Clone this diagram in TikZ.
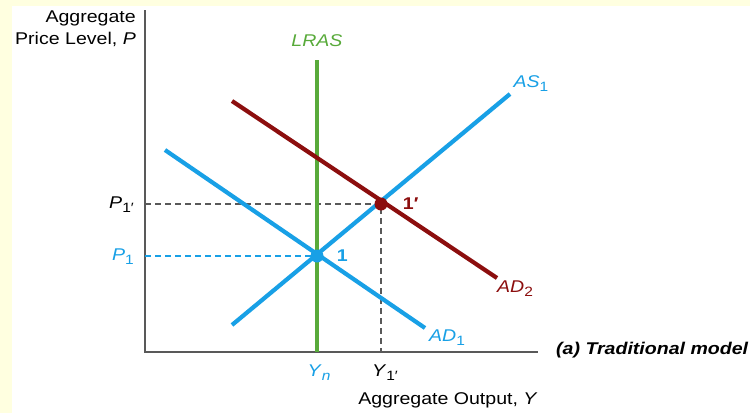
\documentclass[tikz,border=0pt]{standalone}
\usepackage{fontspec}
\setmainfont{Liberation Sans}[FakeStretch=1.15]
\setsansfont{Liberation Sans}[FakeStretch=1.15]
\usetikzlibrary{positioning}
\definecolor{adblue}{RGB}{24,160,230}
\definecolor{lrasgreen}{RGB}{88,170,58}
\definecolor{addark}{RGB}{140,14,14}
\definecolor{pagebg}{RGB}{255,255,224}
\newcommand\lowsub[1]{\raisebox{-4pt}{\fontsize{13.5}{14}\selectfont#1}}
\tikzset{
  curve/.style={line width=4.2pt},
  axisline/.style={line width=1.4pt,gray!70!black},
  guide/.style={dashed,line width=1.1pt,dash pattern=on 6pt off 4pt},
  dot/.style={circle,fill,inner sep=0pt,minimum size=13pt},
  lbl/.style={font=\fontsize{17}{22}\selectfont,inner sep=1pt},
  boldlbl/.style={lbl,font=\fontsize{17}{22}\selectfont\bfseries}
}
\begin{document}
\begin{tikzpicture}[x=1pt,y=-1pt]
  \useasboundingbox (0,0) rectangle (750,413);
  \fill[pagebg] (0,0) rectangle (750,413);
  \fill[white] (12,6) rectangle (750,413);
  % axes
  \coordinate (o) at (145,352);
  \coordinate (ytop) at (145,10);
  \coordinate (xend) at (538,352);
  \draw[axisline] (ytop) -- (o) -- (xend);
  \node[lbl,align=right,anchor=north east] (ylab) at (137,10) {Aggregate\\Price Level, \textit{P}};
  \node[lbl] (xlab) at (448,400) {Aggregate Output, \textit{Y}};
  \node[lbl,anchor=west,font=\fontsize{17}{22}\selectfont\bfseries\itshape] (title) at (555,350) {(a) Traditional model};
  % equilibria
  \coordinate (e1) at (317,256);
  \coordinate (e2) at (381,204);
  \coordinate (pa) at (145,204);
  \coordinate (pb) at (145,256);
  \coordinate (ya) at (381,352);
  \draw[guide,gray!70!black] (pa) -- (e2) -- (ya);
  \draw[guide,adblue] (pb) -- (e1);
  % curves
  \coordinate (lras0) at (317,60);
  \coordinate (lras1) at (317,352);
  \draw[curve,lrasgreen] (lras0) -- (lras1);
  \coordinate (as0) at (232,325);
  \coordinate (as1) at (510,94);
  \draw[curve,adblue] (as0) -- (as1);
  \coordinate (ad10) at (165,150);
  \coordinate (ad11) at (425,328);
  \draw[curve,adblue] (ad10) -- (ad11);
  \coordinate (ad20) at (232,101);
  \coordinate (ad21) at (497,278);
  \draw[curve,addark] (ad20) -- (ad21);
  \node[dot,adblue] (pt1) at (e1) {};
  \node[dot,addark] (pt2) at (e2) {};
  % labels
  \node[lbl,lrasgreen] (lraslab) at (317,41) {\textit{LRAS}};
  \node[lbl,adblue] (aslab) at (531,84) {\textit{AS}\lowsub{1}};
  \node[lbl,adblue] (ad1lab) at (447,338) {\textit{AD}\lowsub{1}};
  \node[lbl,addark] (ad2lab) at (515,289) {\textit{AD}\lowsub{2}};
  \node[boldlbl,adblue,right=12pt of pt1] (n1) {1};
  \node[boldlbl,addark,right=14pt of pt2] (n2) {1′};
  \node[lbl,anchor=east] (p2lab) at (135,205) {\textit{P}\lowsub{1′}};
  \node[lbl,adblue,anchor=east] (p1lab) at (135,257) {\textit{P}\lowsub{1}};
  \node[lbl,adblue] (ynlab) at (319,373) {\textit{Y}\lowsub{\textit{n}}};
  \node[lbl] (y2lab) at (385,373) {\textit{Y}\lowsub{1′}};
\end{tikzpicture}
\end{document}
